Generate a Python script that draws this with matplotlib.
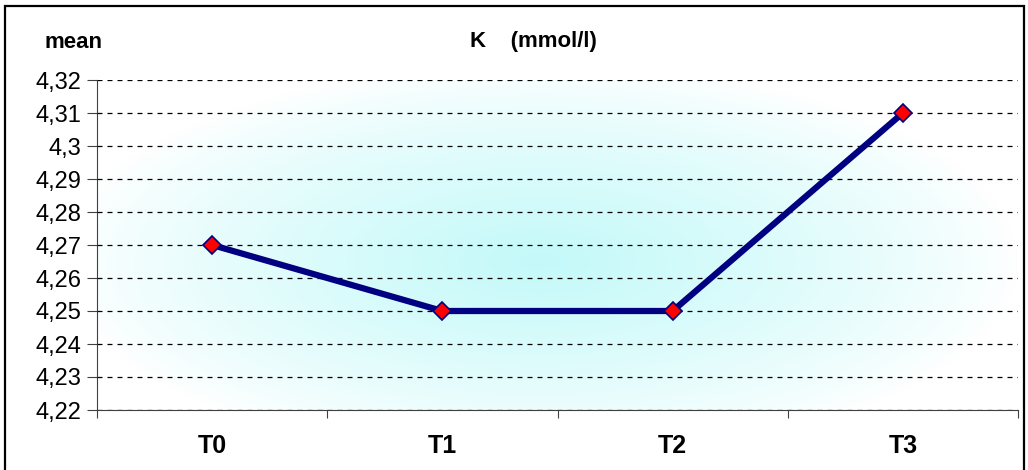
import numpy as np
import matplotlib.pyplot as plt
from matplotlib.colors import LinearSegmentedColormap
from matplotlib.patches import Rectangle

categories = ['T0', 'T1', 'T2', 'T3']
k_mean = [4.27, 4.25, 4.25, 4.31]
yticks = [4.22, 4.23, 4.24, 4.25, 4.26, 4.27, 4.28, 4.29, 4.30, 4.31, 4.32]

plt.rcParams['font.family'] = ['Liberation Sans', 'DejaVu Sans']

fig = plt.figure(figsize=(10.28, 4.70), dpi=100)
ax = fig.add_axes([97 / 1028, 60 / 470, 921 / 1028, 330 / 470])

# outer frame of the chart
fig.patches.append(Rectangle((5 / 1028, -0.01), 1019 / 1028, 0.998,
                             transform=fig.transFigure, fill=False,
                             edgecolor='black', linewidth=1.6))

# soft cyan radial fill
gx, gy = np.meshgrid(np.linspace(0, 1, 400), np.linspace(0, 1, 200))
r = np.sqrt(((gx - 0.48) / 0.52) ** 2 + ((gy - 0.45) / 0.6) ** 2)
g = np.clip(1 - r, 0, 1) ** 0.8
cmap = LinearSegmentedColormap.from_list('bg', ['#ffffff', '#c4f9f9'])
ax.imshow(g, cmap=cmap, extent=[-0.5, 3.5, 4.22, 4.32], aspect='auto',
          origin='lower', zorder=0, vmin=0, vmax=1, interpolation='bilinear')

x = np.arange(len(categories))
ax.plot(x, k_mean, color='#000080', linewidth=4.5, zorder=3,
        marker='D', markersize=9.5, markerfacecolor='#ff0000',
        markeredgecolor='#000080', markeredgewidth=1.2)

ax.set_xlim(-0.5, 3.5)
ax.set_ylim(4.22, 4.32)
ax.set_yticks(yticks)
ax.set_yticklabels([f'{v:g}'.replace('.', ',') for v in yticks], fontsize=17)
ax.yaxis.grid(True, color='black', linestyle=(0, (4, 4)), linewidth=0.9)
ax.set_axisbelow(False)
ax.set_xticks([-0.5, 0.5, 1.5, 2.5, 3.5])
ax.set_xticklabels([])
ax.set_xticks(x, minor=True)
ax.set_xticklabels(categories, minor=True, fontsize=18, fontweight='bold')
ax.tick_params(axis='x', which='minor', length=0, pad=17)
ax.tick_params(axis='x', which='major', length=6, color='#404040')
ax.tick_params(axis='y', length=7, color='#404040', pad=4)

for s in ['top', 'right']:
    ax.spines[s].set_visible(False)
for s in ['left', 'bottom']:
    ax.spines[s].set_color('#404040')

fig.text(73 / 1028, 1 - 42 / 470, 'mean', ha='center', va='center',
         fontsize=16, fontweight='bold')
fig.text(533 / 1028, 1 - 42 / 470, 'K    (mmol/l)', ha='center', va='center',
         fontsize=16, fontweight='bold')

fig.savefig('out.png', dpi=100)
